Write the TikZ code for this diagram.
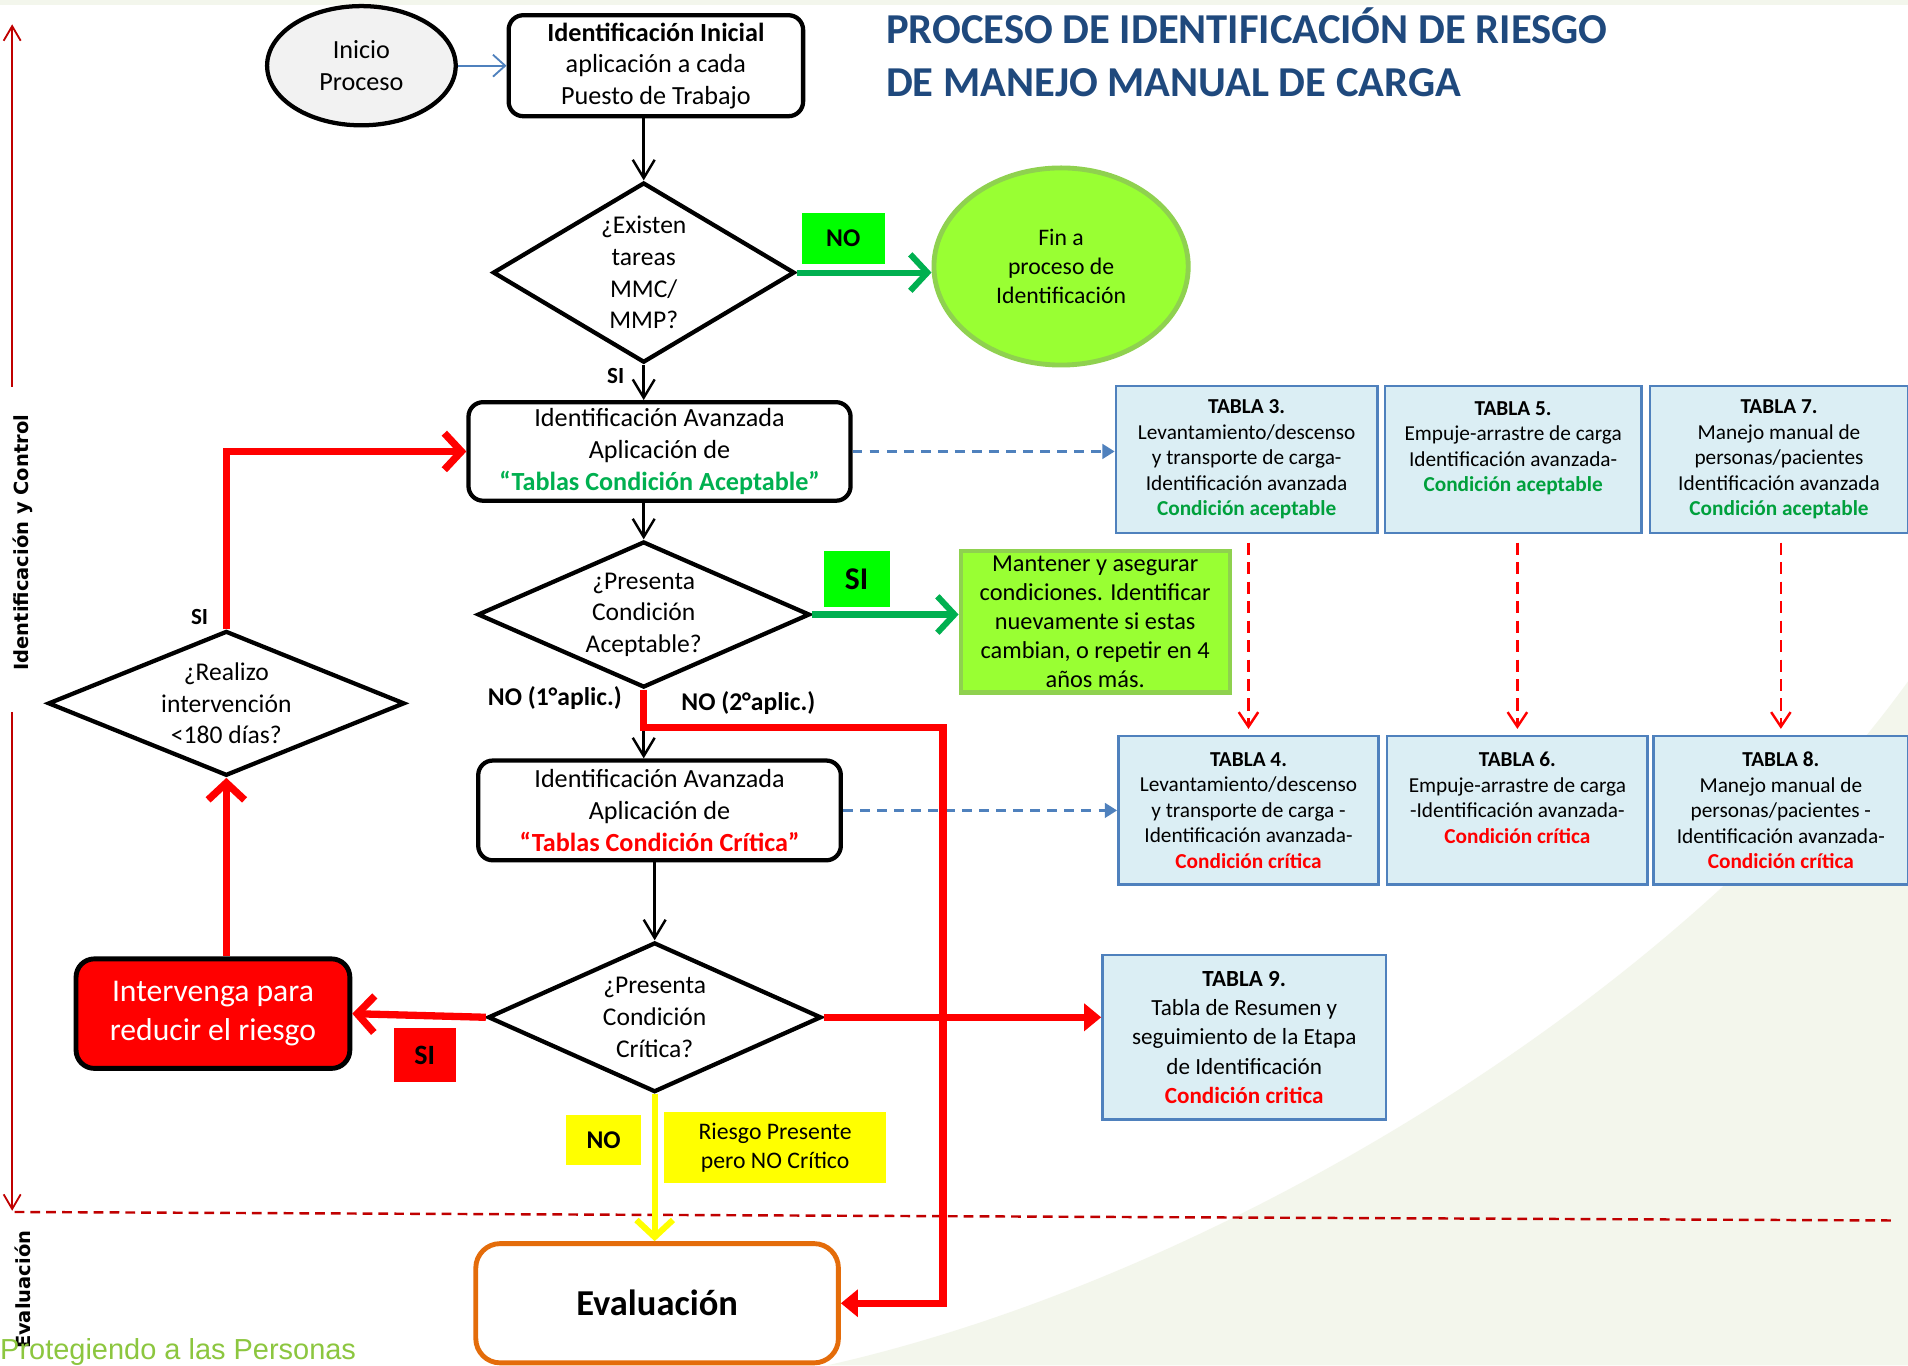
\documentclass[tikz,border=0pt]{standalone}
\usepackage{fontspec}
\setmainfont{Carlito}
\newfontfamily\verdanafont{DejaVu Sans}
\newfontfamily\arialfont{Liberation Sans}
\usetikzlibrary{shapes.geometric,arrows.meta}
\definecolor{tituloazul}{HTML}{1F497D}
\definecolor{fondoverde}{HTML}{F3F6EC}
\definecolor{lineaizq}{HTML}{C00000}
\definecolor{grisinicio}{HTML}{F2F2F2}
\definecolor{azulflecha}{HTML}{4F81BD}
\definecolor{verdeflecha}{HTML}{00B050}
\definecolor{verdechillon}{HTML}{00FF00}
\definecolor{lima}{HTML}{99FF33}
\definecolor{limaborde}{HTML}{8FD14F}
\definecolor{rojo}{HTML}{FF0000}
\definecolor{amarillo}{HTML}{FFFF00}
\definecolor{naranja}{HTML}{E46C0A}
\definecolor{tablafondo}{HTML}{DBEEF4}
\definecolor{tablaborde}{HTML}{4F81BD}
\definecolor{verdetabla}{HTML}{00A03C}
\definecolor{verdelema}{HTML}{8CC63F}

\begin{document}
\begin{tikzpicture}[x=1pt,y=-1pt,
	caja/.style={draw,line width=3.5pt,rounded corners=12pt,inner sep=0pt,align=center,font=\fontsize{21.5}{26}\selectfont},
	rombo/.style={draw,diamond,line width=3.5pt,inner sep=0pt,align=center,font=\fontsize{21}{26}\selectfont},
	tabla/.style={draw=tablaborde,fill=tablafondo,line width=2pt,inner sep=0pt,align=center,font=\fontsize{17.5}{21}\selectfont},
	marca/.style={inner sep=0pt,font=\fontsize{21}{24}\selectfont\bfseries},
	negra/.style={line width=2pt,-{Straight Barb[length=15pt,width=18pt]}},
	roja/.style={draw=rojo,line width=6pt,-{Straight Barb[length=14pt,width=30pt]}},
	rojapunta/.style={draw=rojo,line width=6pt,-{Triangle[length=14pt,width=22pt]}},
	verde/.style={draw=verdeflecha,line width=5pt,-{Straight Barb[length=14pt,width=30pt]}},
	amarilla/.style={draw=amarillo,line width=5pt,-{Straight Barb[length=14pt,width=30pt]}},
	azul/.style={draw=azulflecha,line width=2pt,dash pattern=on 8pt off 6pt,-{Triangle[length=10pt,width=12pt]}},
	rojadash/.style={color=rojo,line width=2pt,dash pattern=on 10pt off 6pt,-{Straight Barb[length=12pt,width=16pt]},shorten <=7pt,shorten >=5pt},
	guia/.style={draw=lineaizq,line width=1.5pt,-{Straight Barb[length=12pt,width=14pt]}},
	eje/.style={rotate=90,inner sep=0pt,font=\verdanafont\bfseries\fontsize{16}{19}\selectfont}
]
	\useasboundingbox (0,0) rectangle (1568,1122);
	\fill[white] (0,0) rectangle (1568,1122);
	\fill[fondoverde] (0,0) rectangle (1568,4);
	\fill[fondoverde] (680,1122) .. controls (1000,1050) and (1380,820) .. (1568,560) -- (1568,1122) -- cycle;

	\coordinate (ejeA) at (10,318);
	\coordinate (ejeB) at (10,20);
	\coordinate (ejeC) at (10,585);
	\coordinate (ejeD) at (10,995);
	\coordinate (limA) at (12,996);
	\coordinate (limB) at (1558,1003);
	\coordinate (esquina) at (775,598);
	\draw[guia] (ejeA) -- (ejeB);
	\draw[guia] (ejeC) -- (ejeD);
	\draw[lineaizq,line width=2pt,dash pattern=on 8pt off 5pt] (limA) -- (limB);
	\node[eje] (idctrl) at (19,446) {Identificación y Control};
	\node[eje] (evalua) at (19,1060) {Evaluación};
	\node[anchor=base west,inner sep=0pt,text=verdelema,font=\arialfont\fontsize{23.8}{27}\selectfont] (lema) at (0,1117) {Protegiendo a las Personas};

	\node[anchor=base west,inner sep=0pt,text=tituloazul,font=\fontsize{35}{43}\selectfont\bfseries] (titulo1) at (728,36) {PROCESO DE IDENTIFICACIÓN DE RIESGO};
	\node[anchor=base west,inner sep=0pt,text=tituloazul,font=\fontsize{35}{43}\selectfont\bfseries] (titulo2) at (728,79) {DE MANEJO MANUAL DE CARGA};

	\node[ellipse,draw,fill=grisinicio,line width=3.5pt,minimum width=155pt,minimum height=98pt,inner sep=0pt,align=center,font=\fontsize{21.5}{26}\selectfont] (inicio) at (297,54) {Inicio\\Proceso};
	\node[caja,minimum width=242pt,minimum height=83pt] (inicial) at (539,54) {\textbf{Identificación Inicial}\\aplicación a cada\\Puesto de Trabajo};
	\node[rombo,shape aspect=1.68,minimum width=248pt,minimum height=148pt] (existen) at (529,224) {¿Existen\\tareas\\MMC/\\MMP?};
	\node[ellipse,draw=limaborde,fill=lima,line width=4pt,minimum width=209pt,minimum height=162pt,inner sep=0pt,align=center,font=\fontsize{19.5}{24}\selectfont] (fin) at (872,219) {Fin a\\proceso de\\Identificación};
	\node[marca,fill=verdechillon,minimum width=68pt,minimum height=42pt] (noverde) at (693,196) {NO};
	\node[caja,minimum width=314pt,minimum height=81pt] (avanzada1) at (542,371) {Identificación Avanzada\\Aplicación de\\{\bfseries\color{verdeflecha}“Tablas Condición Aceptable”}};
	\node[rombo,shape aspect=2.27,minimum width=273pt,minimum height=120pt] (aceptable) at (529,505) {¿Presenta\\Condición\\Aceptable?};
	\node[marca,fill=verdechillon,minimum width=54pt,minimum height=46pt,font=\fontsize{26}{30}\selectfont\bfseries] (siverde) at (704,476) {SI};
	\node[draw=limaborde,fill=lima,line width=3.5pt,minimum width=221pt,minimum height=116pt,inner sep=0pt,align=center,font=\fontsize{20}{24}\selectfont] (mantener) at (900,511) {Mantener y asegurar\\condiciones. Identificar\\nuevamente si estas\\cambian, o repetir en 4\\años más.};
	\node[caja,minimum width=298pt,minimum height=82pt] (avanzada2) at (542,666) {Identificación Avanzada\\Aplicación de\\{\bfseries\color{rojo}“Tablas Condición Crítica”}};
	\node[rombo,shape aspect=2.23,minimum width=274pt,minimum height=123pt] (critica) at (538,836) {¿Presenta\\Condición\\Crítica?};
	\node[caja,fill=rojo,line width=4pt,rounded corners=15pt,minimum width=225pt,minimum height=90pt,text=white,font=\fontsize{26}{32}\selectfont] (intervenga) at (175,833) {Intervenga para\\reducir el riesgo};
	\node[marca,fill=rojo,minimum width=51pt,minimum height=45pt,font=\fontsize{23}{26}\selectfont\bfseries] (sirojo) at (349,867) {SI};
	\node[rombo,shape aspect=2.46,minimum width=293pt,minimum height=119pt] (realizo) at (186,578) {¿Realizo\\intervención\\<180 días?};
	\node[marca,fill=amarillo,minimum width=61pt,minimum height=41pt] (noamarillo) at (496,937) {NO};
	\node[fill=amarillo,minimum width=183pt,minimum height=58pt,inner sep=0pt,align=center,font=\fontsize{19.5}{24}\selectfont] (riesgo) at (637,943) {Riesgo Presente\\pero NO Crítico};
	\node[caja,draw=naranja,line width=4pt,rounded corners=20pt,minimum width=298pt,minimum height=98pt,font=\fontsize{30}{36}\selectfont\bfseries] (evaluacion) at (540,1071) {Evaluación};

	\node[marca,font=\fontsize{19}{22}\selectfont\bfseries] (si1) at (506,309) {SI};
	\node[marca] (no1) at (456,574) {NO (1°aplic.)};
	\node[marca] (no2) at (615,578) {NO (2°aplic.)};
	\node[marca,font=\fontsize{19}{22}\selectfont\bfseries] (si2) at (164,507) {SI};

	\node[tabla,minimum width=215pt,minimum height=121pt] (t3) at (1024.5,377.5) {\textbf{TABLA 3.}\\Levantamiento/descenso\\y transporte de carga-\\Identificación avanzada\\{\bfseries\color{verdetabla}Condición aceptable}};
	\node[tabla,minimum width=211pt,minimum height=121pt] (t5) at (1243.5,377.5) {\textbf{TABLA 5.}\\Empuje-arrastre de carga\\Identificación avanzada-\\{\bfseries\color{verdetabla}Condición aceptable}\\~};
	\node[tabla,minimum width=212pt,minimum height=121pt] (t7) at (1462,377.5) {\textbf{TABLA 7.}\\Manejo manual de\\personas/pacientes\\Identificación avanzada\\{\bfseries\color{verdetabla}Condición aceptable}};
	\node[tabla,minimum width=214pt,minimum height=122pt] (t4) at (1026,666) {\textbf{TABLA 4.}\\Levantamiento/descenso\\y transporte de carga -\\Identificación avanzada-\\{\bfseries\color{rojo}Condición crítica}};
	\node[tabla,minimum width=214pt,minimum height=122pt] (t6) at (1247,666) {\textbf{TABLA 6.}\\Empuje-arrastre de carga\\-Identificación avanzada-\\{\bfseries\color{rojo}Condición crítica}\\~};
	\node[tabla,minimum width=209pt,minimum height=122pt] (t8) at (1463.5,666) {\textbf{TABLA 8.}\\Manejo manual de\\personas/pacientes -\\Identificación avanzada-\\{\bfseries\color{rojo}Condición crítica}};
	\node[tabla,minimum width=233pt,minimum height=135pt,font=\fontsize{19}{24}\selectfont] (t9) at (1022.5,852.5) {\textbf{TABLA 9.}\\Tabla de Resumen y\\seguimiento de la Etapa\\de Identificación\\{\bfseries\color{rojo}Condición critica}};

	\draw[azulflecha,line width=1.5pt,-{Straight Barb[length=10pt,width=18pt]}] (inicio) -- (inicial);
	\path[negra]
		(inicial.south -| existen.north) edge (existen.north)
		(existen.south) edge (existen.south |- avanzada1.north)
		(avanzada1.south -| aceptable.north) edge (aceptable.north)
		(aceptable.south) edge (aceptable.south |- avanzada2.north)
		(avanzada2.south -| critica.north) edge (critica.north);
	\draw[verde] (existen.east) -- (existen.east -| fin.west);
	\draw[verde] (aceptable.east) -- (aceptable.east -| mantener.west);
	\draw[azul] (avanzada1.east) -- (avanzada1.east -| t3.west);
	\draw[azul] (avanzada2.east) -- (avanzada2.east -| t4.west);
	\path[rojadash]
		(t4.north |- t3.south) edge (t4.north)
		(t6.north |- t5.south) edge (t6.north)
		(t8.north |- t7.south) edge (t8.north);
	\draw[rojapunta] (aceptable.south) |- (esquina) |- (evaluacion.east);
	\draw[roja] (critica.west) -- (intervenga.east);
	\draw[rojapunta] (critica.east) -- (critica.east -| t9.west);
	\draw[roja] (realizo.south |- intervenga.north) -- (realizo.south);
	\draw[roja] (realizo.north) |- (avanzada1.west);
	\draw[amarilla] (critica.south) -- (critica.south |- evaluacion.north);
\end{tikzpicture}
\end{document}
